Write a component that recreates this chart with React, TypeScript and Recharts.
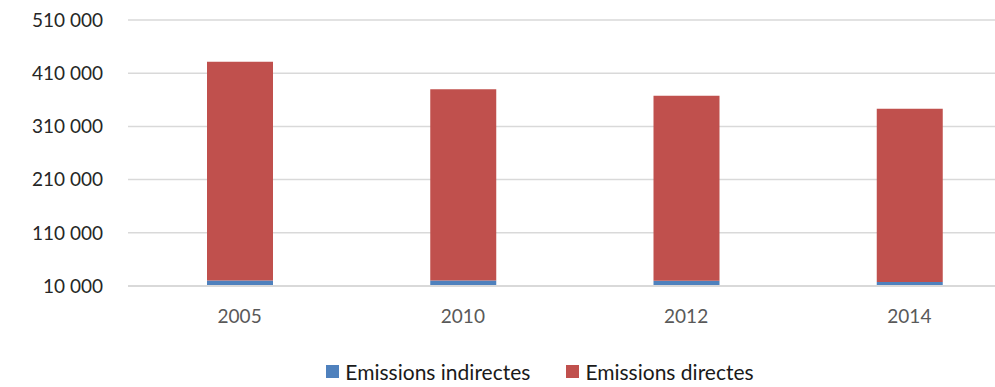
import React from "react";
import {
  BarChart,
  Bar,
  XAxis,
  YAxis,
  CartesianGrid,
  Legend,
} from "recharts";

const years = ["2005", "2010", "2012", "2014"];
const indirectes = [20500, 20200, 20000, 17500];
const directes = [411000, 359800, 347500, 325500];
const yTicks = [10000, 110000, 210000, 310000, 410000, 510000];

const BLUE = "#4F81BD";
const RED = "#C0504D";
const FONT = "Lato, 'Open Sans', sans-serif";

const data = years.map((year, i) => ({
  year,
  indirectes: indirectes[i],
  directes: directes[i],
}));

// "510 000" style thousands
const fmt = (n: number) => String(n).replace(/\B(?=(\d{3})+(?!\d))/g, " ");

const legendItems = [
  { label: "Emissions indirectes", color: BLUE },
  { label: "Emissions directes", color: RED },
];

function EmissionsLegend() {
  return (
    <div
      style={{
        display: "flex",
        justifyContent: "center",
        gap: 36,
        paddingTop: 17,
        fontFamily: FONT,
        fontSize: 21,
        color: "#1a1a1a",
      }}
    >
      {legendItems.map((it) => (
        <div key={it.label} style={{ display: "flex", alignItems: "center" }}>
          <span
            style={{
              width: 13,
              height: 13,
              background: it.color,
              marginRight: 6,
              display: "inline-block",
            }}
          />
          {it.label}
        </div>
      ))}
    </div>
  );
}

export default function App() {
  return (
    <div
      style={{
        position: "fixed",
        left: 0,
        top: 0,
        width: 995,
        height: 387,
        overflow: "hidden",
        background: "#fff",
      }}
    >
      <BarChart
        width={1040}
        height={387}
        data={data}
        margin={{ top: 20, right: 19, bottom: 0, left: 0 }}
      >
        <CartesianGrid
          vertical={false}
          stroke="#D9D9D9"
          strokeWidth={1.5}
        />
        <XAxis
          dataKey="year"
          height={56}
          tickLine={false}
          tickSize={0}
          tickMargin={24}
          axisLine={{ stroke: "#D9D9D9", strokeWidth: 2 }}
          tick={{ fill: "#595959", fontSize: 19, fontFamily: FONT }}
        />
        <YAxis
          width={128}
          domain={[10000, 510000]}
          ticks={yTicks}
          allowDataOverflow
          axisLine={false}
          tickLine={false}
          tickSize={0}
          tickMargin={25}
          tickFormatter={fmt}
          tick={{ fill: "#262626", fontSize: 19, fontFamily: FONT }}
        />
        <Legend
          verticalAlign="bottom"
          height={45}
          wrapperStyle={{ left: 0, width: 1080 }}
          content={() => <EmissionsLegend />}
        />
        <Bar
          dataKey="indirectes"
          stackId="e"
          fill={BLUE}
          barSize={66}
          isAnimationActive={false}
        />
        <Bar
          dataKey="directes"
          stackId="e"
          fill={RED}
          barSize={66}
          isAnimationActive={false}
        />
      </BarChart>
    </div>
  );
}
